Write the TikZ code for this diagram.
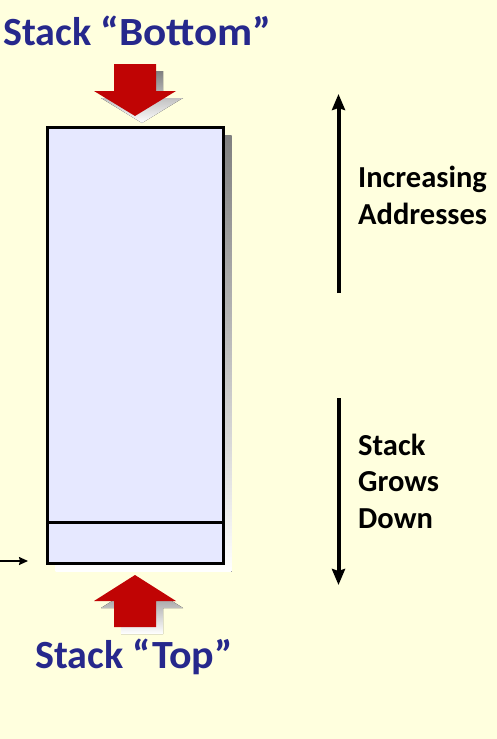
\documentclass[tikz,border=0pt]{standalone}
\usepackage{fontspec}
\usepackage{graphicx}
\setmainfont{Carlito}
\usetikzlibrary{positioning,arrows.meta}

\definecolor{paper}{RGB}{255,255,222}
\definecolor{cellfill}{RGB}{230,232,255}
\definecolor{pushred}{RGB}{192,4,4}
\definecolor{titleblue}{RGB}{38,40,140}
\definecolor{shade}{RGB}{184,182,156}

\tikzset{
  cell/.style={draw, line width=3pt, fill=cellfill, inner sep=0pt},
  title/.style={text=titleblue, font=\fontsize{40}{48}\selectfont\bfseries, inner sep=0pt},
  note/.style={font=\fontsize{30.5}{36.5}\selectfont\bfseries, align=left, inner sep=0pt},
  axis/.style={line width=4pt, -{Stealth[length=16pt,width=13pt,inset=2pt]}},
}

\begin{document}
\begin{tikzpicture}[x=1pt, y=-1pt]
      \fill[paper] (0,0) rectangle (497,739);
      \useasboundingbox (0,0) rectangle (497,739);
      % the stack
      \fill[shade] (55.5,135.5) rectangle (231.5,571.5);
      \node (stack) [cell, minimum width=176pt, minimum height=436pt] at (135.5,345.5) {};
      \node (topcell) [cell, fill=none, minimum width=176pt, minimum height=41.5pt, anchor=south] at (stack.south) {};
      % red push arrows
      \foreach \col/\d in {shade/7, pushred/0}
        \fill[\col, shift={(\d,\d)}] (135,116) -- (94,91) -- (114,91) -- (114,64) -- (156,64) -- (156,91) -- (176,91) -- cycle;
      \foreach \col/\d in {shade/7, pushred/0}
        \fill[\col, shift={(\d,\d)}] (135,575) -- (94,601) -- (114,601) -- (114,627) -- (156,627) -- (156,601) -- (176,601) -- cycle;
      \node (bottom) [title, anchor=base west] at (3,45) {Stack \scalebox{1.08}[1]{“Bottom”}};
      \node (top) [title, anchor=base west] at (35,668) {Stack \scalebox{1.05}[1]{“Top”}};
      % stack pointer
      \coordinate (sp) at (0,561);
      \coordinate (sptip) at (28,561);
      \draw [line width=1.6pt, -{Stealth[length=9pt,width=8pt,inset=1pt]}] (sp) to (sptip);
      % direction arrows
      \coordinate (addrlo) at (338.5,293);
      \coordinate (addrhi) at (338.5,94);
      \coordinate (growhi) at (338.5,398);
      \coordinate (growlo) at (338.5,585);
      \draw [axis] (addrlo) to (addrhi);
      \draw [axis] (growhi) to (growlo);
      \node (addr) [note, anchor=base west] at (358,224) {Increasing\\Addresses};
      \node (grow) [note, anchor=base west] at (358,528) {Stack\\Grows\\Down};
\end{tikzpicture}
\end{document}
